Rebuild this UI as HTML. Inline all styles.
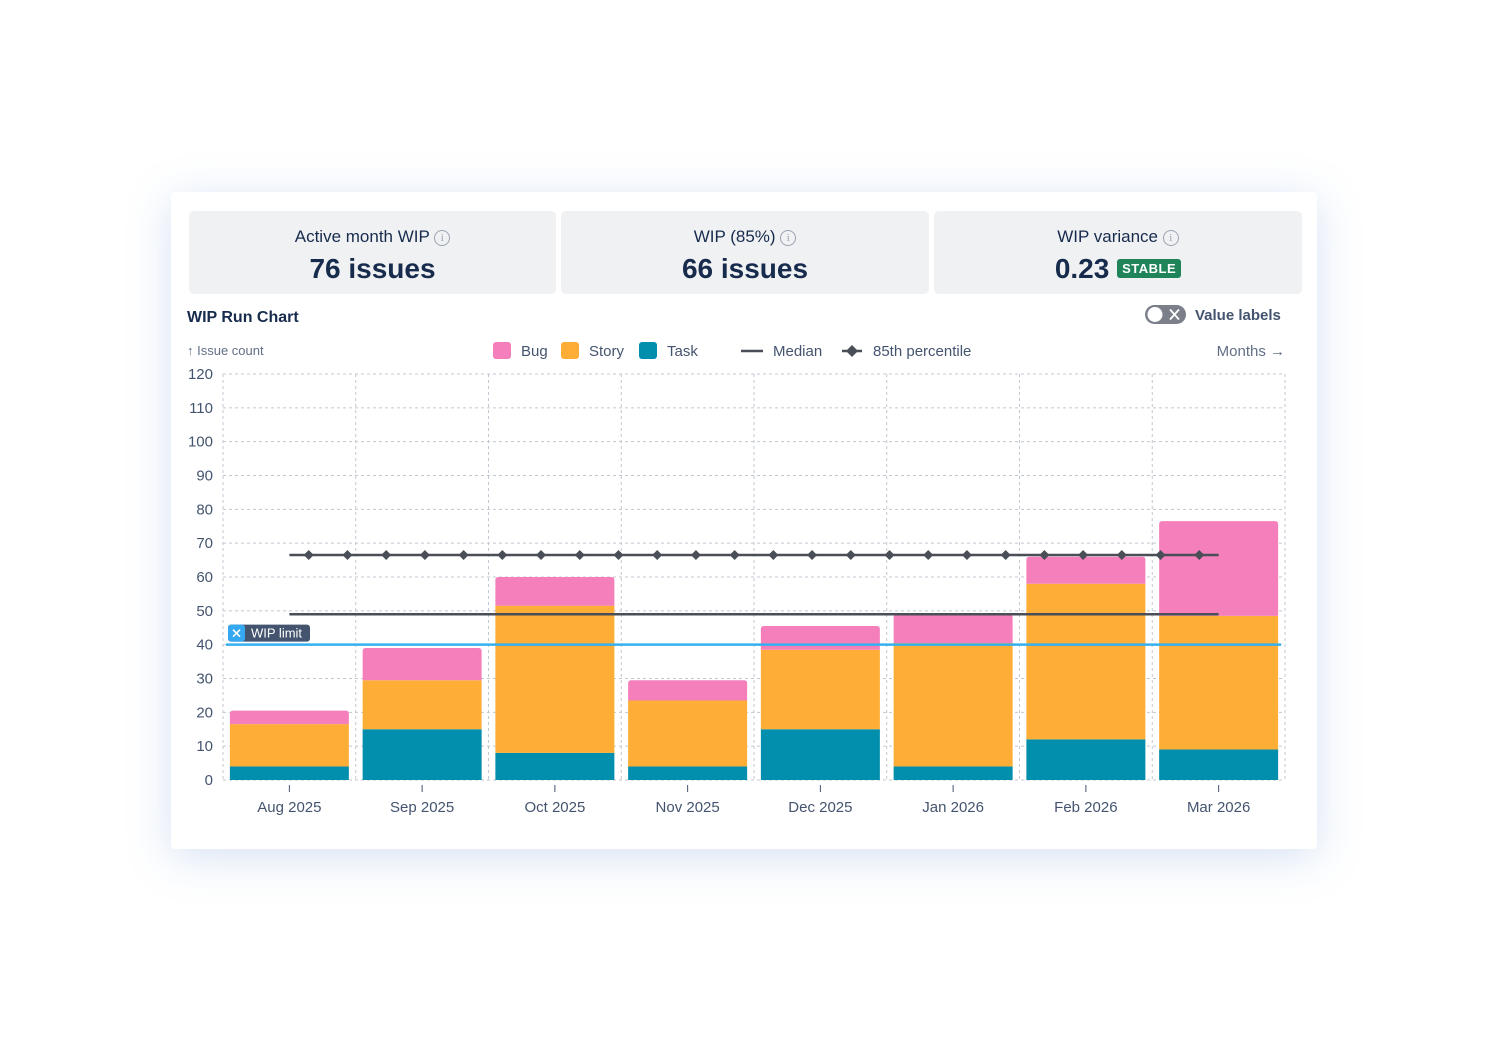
<!DOCTYPE html>
<html><head><meta charset="utf-8"><style>
body{margin:0;width:1488px;height:1041px;background:#fff;font-family:"Liberation Sans",sans-serif;position:relative;overflow:hidden}
.card{position:absolute;left:171px;top:192px;width:1146px;height:657px;background:#fff;border-radius:4px;box-shadow:0 8px 44px rgba(120,160,220,.3)}
.stat{position:absolute;top:19px;height:83px;background:#f0f1f3;border-radius:5px;text-align:center;color:#172b4d}
.stat .t{margin-top:16px;font-size:17px;color:#172b4d}
.stat .v{font-size:28px;font-weight:bold;margin-top:6px}
.info{display:inline-block;width:14px;height:14px;border:1.5px solid #9aa3b2;border-radius:50%;font-size:11px;line-height:14px;color:#9aa3b2;vertical-align:1px;font-family:"Liberation Serif",serif}
.badge{display:inline-block;background:#1f845a;color:#fff;font-size:13px;padding:2px 5px;border-radius:3px;vertical-align:5px;letter-spacing:.5px}
</style></head><body>
<div class="card">
 <div class="stat" style="left:18px;width:367px"><div class="t">Active month WIP <span class="info">i</span></div><div class="v">76 issues</div></div>
 <div class="stat" style="left:390px;width:368px"><div class="t">WIP (85%) <span class="info">i</span></div><div class="v">66 issues</div></div>
 <div class="stat" style="left:763px;width:368px"><div class="t">WIP variance <span class="info">i</span></div><div class="v">0.23 <span class="badge">STABLE</span></div></div>
</div>
<svg width="1488" height="1041" style="position:absolute;left:0;top:0" id="svg" font-family="Liberation Sans, sans-serif">
 <text x="187" y="322" font-size="16" font-weight="bold" fill="#172b4d">WIP Run Chart</text>
 <g>
  <rect x="1145" y="305" width="41" height="19" rx="9.5" fill="#7a7f8a"/>
  <circle cx="1155" cy="314.5" r="7.5" fill="#fff"/>
  <path d="M1170 309.5l9 10M1179 309.5l-9 10" stroke="#fff" stroke-width="1.8"/>
  <text x="1195" y="320" font-size="15" font-weight="bold" fill="#44546f">Value labels</text>
 </g>
 <text x="187" y="355" font-size="13" fill="#626f86">↑ Issue count</text>
 <text x="1285" y="356" font-size="15" fill="#626f86" text-anchor="end">Months →</text>
 <g font-size="15" fill="#44546f">
  <rect x="493" y="342" width="18" height="17" rx="3" fill="#f47fbb"/><text x="521" y="356">Bug</text>
  <rect x="561" y="342" width="18" height="17" rx="3" fill="#feae36"/><text x="589" y="356">Story</text>
  <rect x="639" y="342" width="18" height="17" rx="3" fill="#028ead"/><text x="667" y="356">Task</text>
  <line x1="741" y1="351" x2="763" y2="351" stroke="#4a4e57" stroke-width="2.5"/><text x="773" y="356">Median</text>
  <line x1="842" y1="351" x2="862" y2="351" stroke="#4a4e57" stroke-width="2.5"/><path d="M852 345l6 6-6 6-6-6z" fill="#4a4e57"/><text x="873" y="356">85th percentile</text>
 </g>
 <g id="grid"></g><g id="bars"></g><g id="lines"></g><g id="axis"></g>
</svg>
<script>
const categories=["Aug 2025","Sep 2025","Oct 2025","Nov 2025","Dec 2025","Jan 2026","Feb 2026","Mar 2026"];
const taskValues=[4,15,8,4,15,4,12,9];
const storyValues=[12.5,14.5,43.5,19.5,23.5,36.5,46,39.5];
const bugValues=[4,9.5,8.5,6,7,8.5,8,28];
const medianValue=49;
const p85Value=66.5;
const wipLimit=40;
const yTicks=[0,10,20,30,40,50,60,70,80,90,100,110,120];
const NS="http://www.w3.org/2000/svg";
const L=223,R=1285,T=374,B=780,YMAX=120;
const band=(R-L)/categories.length;
const y=v=>B-v/YMAX*(B-T);
const xc=i=>L+band*(i+.5);
function mk(tag,attrs,parent){const e=document.createElementNS(NS,tag);for(const k in attrs)e.setAttribute(k,attrs[k]);document.getElementById(parent).appendChild(e);return e;}
yTicks.forEach(t=>{
 const g=mk('line',{x1:L,x2:R,y1:y(t),y2:y(t),stroke:'#c1c7d0','stroke-dasharray':'3,3'},'grid');
 
 
 const tx=mk('text',{x:213,y:y(t)+5,'text-anchor':'end','font-size':15,fill:'#44546f'},'axis');
 tx.textContent=t;
 
 
});
for(let i=0;i<=categories.length;i++){
 const g=mk('line',{x1:L+band*i,x2:L+band*i,y1:T,y2:B,stroke:'#c1c7d0','stroke-dasharray':'3,3'},'grid');
 
 
}
const bw=119;
function seg(x,y0,y1,color,name,round){
 const h=y0-y1;let d;
 if(round){const r=Math.min(3,h);d=`M${x} ${y0}V${y1+r}Q${x} ${y1} ${x+r} ${y1}H${x+bw-r}Q${x+bw} ${y1} ${x+bw} ${y1+r}V${y0}Z`;}
 else d=`M${x} ${y0}V${y1}H${x+bw}V${y0}Z`;
 const p=mk('path',{d:d,fill:color},'bars');
 
 
}
categories.forEach((c,i)=>{
 const x=xc(i)-bw/2;
 const a=taskValues[i],b=a+storyValues[i],t=b+bugValues[i];
 seg(x,y(0),y(a),'#028ead','bar-task',false);
 seg(x,y(a),y(b),'#feae36','bar-story',false);
 seg(x,y(b),y(t),'#f47fbb','bar-bug',true);
 const tk=mk('line',{x1:xc(i),x2:xc(i),y1:785,y2:792,stroke:'#44546f'},'axis');
 
 
 const tx=mk('text',{x:xc(i),y:812,'text-anchor':'middle','font-size':15,fill:'#44546f'},'axis');
 tx.textContent=c;
 
 
});
const x0=xc(0),x1=xc(categories.length-1);
const med=mk('line',{x1:x0,x2:x1,y1:y(medianValue),y2:y(medianValue),stroke:'#4a4e57','stroke-width':2.5},'lines');


const p85=mk('line',{x1:x0,x2:x1,y1:y(p85Value),y2:y(p85Value),stroke:'#4a4e57','stroke-width':2.5},'lines');


const n=24,step=(x1-x0)/n;
for(let k=0;k<n;k++){
 const mx=x0+step*(k+.5),my=y(p85Value);
 const d=mk('path',{d:`M${mx} ${my-5}l5 5-5 5-5-5z`,fill:'#4a4e57'},'lines');
 
 
}
const wl=mk('line',{x1:226,x2:1281,y1:y(wipLimit),y2:y(wipLimit),stroke:'#34b0f0','stroke-width':2.5},'lines');


const wy=y(wipLimit);
const wg=mk('g',{},'lines');


wg.innerHTML=`<rect x="228" y="${wy-20}" width="82" height="17" rx="3" fill="#44546f"/><rect x="228" y="${wy-20}" width="17" height="17" rx="3" fill="#34a8f0"/><path d="M233 ${wy-15}l7 7M240 ${wy-15}l-7 7" stroke="#fff" stroke-width="1.6"/><text x="251" y="${wy-7}" font-size="13" fill="#fff">WIP limit</text>`;
</script>
</body></html>
